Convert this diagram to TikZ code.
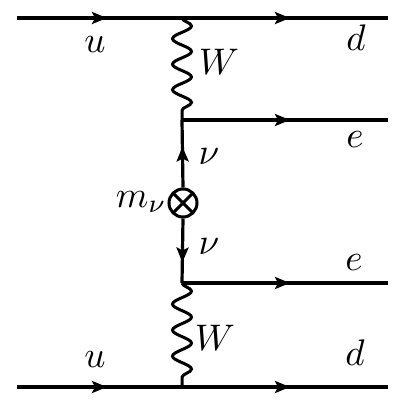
\documentclass[tikz,border=0pt]{standalone}
\usepackage{graphicx}
\usetikzlibrary{arrows.meta,decorations.markings,decorations.pathmorphing}
\begin{document}
\begin{tikzpicture}[x=1pt,y=-1pt,
  lbl/.style={inner sep=0pt},
  line/.style={line width=3.2pt},
  fermion/.style={line,postaction={decorate},
    decoration={markings,mark=at position #1 with {\arrow{Stealth[length=15pt,width=12pt,inset=3pt]}}}},
  boson/.style={line width=3pt,decorate,decoration={snake,amplitude=9.5pt,segment length=#1}},
  mass/.style={circle,draw,line width=3pt,minimum size=28pt,inner sep=0pt,
    path picture={\draw[line width=3pt] (path picture bounding box.north west)--(path picture bounding box.south east)
      (path picture bounding box.north east)--(path picture bounding box.south west);}}]
\useasboundingbox (0,0) rectangle (416,416);
% vertices and ends
\coordinate (a1) at (17,18);
\coordinate (v1) at (182,18);
\coordinate (b1) at (388,18);
\coordinate (v2) at (182,120);
\coordinate (e1) at (388,120);
\node[mass] (m) at (183,203) {};
\coordinate (v3) at (182,283);
\coordinate (e2) at (388,283);
\coordinate (a2) at (17,387);
\coordinate (v4) at (182,387);
\coordinate (b2) at (388,387);
% fermion lines
\draw[fermion=90pt] (a1) -- (v1);
\draw[fermion=108pt] (v1) -- (b1);
\draw[fermion=108pt] (v2) -- (e1);
\draw[fermion=41pt] (m.north) -- (v2);
\draw[fermion=44pt] (m.south) -- (v3);
\draw[fermion=108pt] (v3) -- (e2);
\draw[fermion=90pt] (a2) -- (v4);
\draw[fermion=108pt] (v4) -- (b2);
% W bosons
\draw[boson=25.5pt] (v1) -- (v2);
\draw[boson=26pt] (v3) -- (v4);
% labels
\node[lbl] (lu1) at (95,45) {\scalebox{3.7}{$u$}};
\node[lbl] (ld1) at (356,38) {\scalebox{3.7}{$d$}};
\node[lbl] (lW1) at (219,62) {\scalebox{3.7}{$W$}};
\node[lbl] (le1) at (355,140) {\scalebox{3.7}{$e$}};
\node[lbl] (ln1) at (209,157) {\scalebox{3.7}{$\nu$}};
\node[lbl,anchor=base east] (lm) at (167,207) {\scalebox{3.7}{$m_\nu$}};
\node[lbl] (ln2) at (209,247) {\scalebox{3.7}{$\nu$}};
\node[lbl] (le2) at (354,263) {\scalebox{3.7}{$e$}};
\node[lbl] (lW2) at (215,338) {\scalebox{3.7}{$W$}};
\node[lbl] (ld2) at (355,353) {\scalebox{3.7}{$d$}};
\node[lbl] (lu2) at (95,360) {\scalebox{3.7}{$u$}};
\end{tikzpicture}
\end{document}
